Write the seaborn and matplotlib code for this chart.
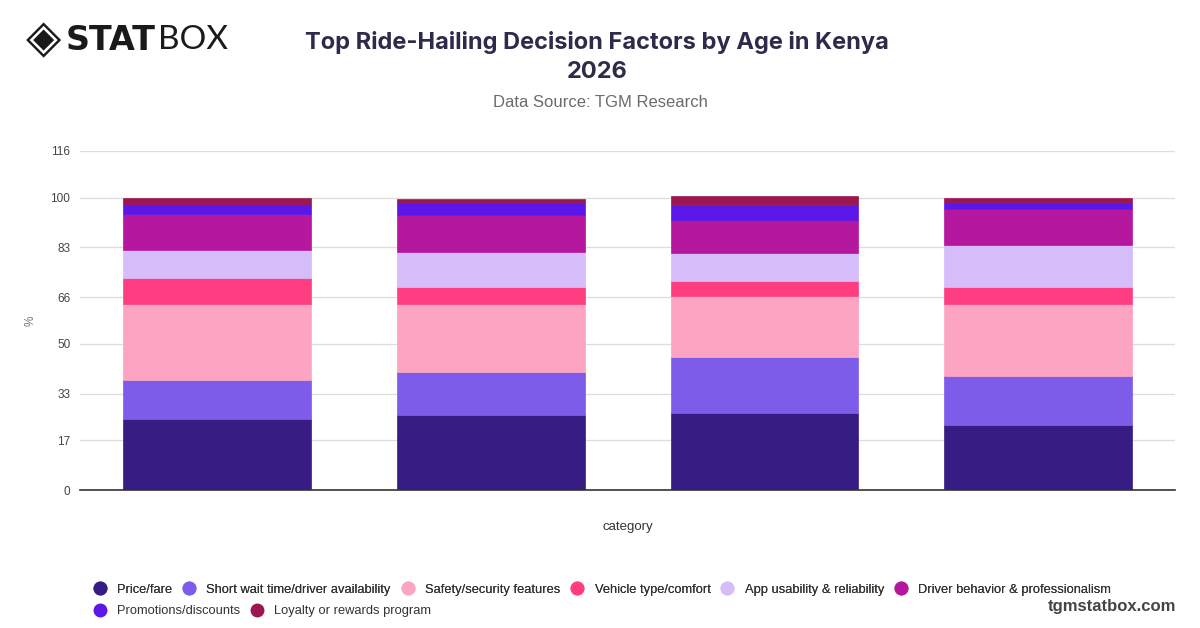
import matplotlib
matplotlib.use("Agg")
import matplotlib.pyplot as plt
from matplotlib.lines import Line2D
import numpy as np
import pandas as pd
import seaborn as sns

# age groups (tick labels are hidden in the original chart)
age_groups = ['18-24', '25-34', '35-44', '45+']

factors = ['Price/fare', 'Short wait time/driver availability', 'Safety/security features',
           'Vehicle type/comfort', 'App usability & reliability', 'Driver behavior & professionalism',
           'Promotions/discounts', 'Loyalty or rewards program']

price = [24.3, 25.7, 26.3, 22.2]
short_wait = [13.4, 14.6, 19.3, 16.7]
safety = [26.1, 23.5, 20.8, 24.6]
vehicle = [8.8, 5.8, 5.2, 6.1]
app = [9.4, 11.8, 9.5, 14.1]
driver = [12.6, 12.6, 11.2, 12.4]
promos = [3.3, 4.5, 5.2, 2.6]
loyalty = [2.1, 1.2, 3.0, 1.2]

colors = ['#371c84', '#7d5cea', '#fda4c2', '#ff3e82', '#d5bdfa', '#b5179e', '#5b16e8', '#9c1650']

yticks = [0, 17, 33, 50, 66, 83, 100, 116]

series = [price, short_wait, safety, vehicle, app, driver, promos, loyalty]

sns.set_style('white')
plt.rcParams['font.family'] = ['Liberation Sans', 'DejaVu Sans']

fig = plt.figure(figsize=(12, 6.28), dpi=100)
ax = fig.add_axes([0.0667, 0.2197, 0.9125, 0.5399])

bottom = np.zeros(len(age_groups))
for name, vals, col in zip(factors, series, colors):
    df = pd.DataFrame({'age': age_groups, 'val': vals})
    sns.barplot(data=df, x='age', y='val', color=col, bottom=bottom, width=0.686,
                ax=ax, saturation=1, edgecolor=col, linewidth=0.5, errorbar=None)
    bottom = bottom + np.array(vals)

ax.set_ylim(0, 116)
ax.set_xlim(-0.5, 3.5)
ax.set_yticks(yticks)
ax.set_yticklabels([str(t) for t in yticks], fontsize=8.5, color='#444444')
ax.set_xticks([])
ax.grid(axis='y', color='#dddddd', linewidth=0.9)
ax.set_axisbelow(True)
for s in ['top', 'right', 'left']:
    ax.spines[s].set_visible(False)
ax.spines['bottom'].set_color('#333333')
ax.spines['bottom'].set_linewidth(1.2)
ax.tick_params(axis='y', length=0, pad=7)
ax.set_xlabel('category', fontsize=9.5, color='#333333', labelpad=22)
ax.set_ylabel('%', fontsize=8.5, color='#777777', labelpad=10)

# titles
fig.text(0.4975, 0.933, 'Top Ride-Hailing Decision Factors by Age in Kenya', ha='center', va='center',
         fontsize=17, fontweight='bold', color='#2e2b4a', family=['Inter', 'DejaVu Sans'])
fig.text(0.4975, 0.885, '2026', ha='center', va='center',
         fontsize=17, fontweight='bold', color='#2e2b4a', family=['Inter', 'DejaVu Sans'])
fig.text(0.5, 0.836, 'Data Source: TGM Research', ha='center', va='center',
         fontsize=12, color='#6b6b6b')

# logo
fig.text(0.036, 0.936, '\u25c8', ha='center', va='center', fontsize=33, color='#1a1a1a',
         family=['DejaVu Sans'])
fig.text(0.055, 0.936, 'STAT', ha='left', va='center', fontsize=24, fontweight='heavy',
         color='#1a1a1a', family=['DejaVu Sans'])
fig.text(0.1315, 0.936, 'BOX', ha='left', va='center', fontsize=24, color='#1a1a1a',
         family=['Lato', 'DejaVu Sans'])

fig.text(0.98, 0.035, 'tgmstatbox.com', ha='right', va='center', fontsize=12,
         fontweight='bold', color='#444444')

# legend in two flowing rows
handles = [Line2D([0], [0], marker='o', linestyle='', markersize=9, markerfacecolor=c,
                  markeredgecolor=c) for c in colors]
legend_kw = dict(frameon=False, fontsize=9.3, handletextpad=0.85, columnspacing=0.8,
                 handlelength=1.0, labelcolor='#333333', loc='center left')
leg1 = fig.legend(handles[:6], factors[:6], bbox_to_anchor=(0.068, 0.061), ncol=6, **legend_kw)
fig.add_artist(leg1)
fig.legend(handles[6:], factors[6:], bbox_to_anchor=(0.068, 0.027), ncol=2, **legend_kw)

fig.savefig('out.png', dpi=100)
